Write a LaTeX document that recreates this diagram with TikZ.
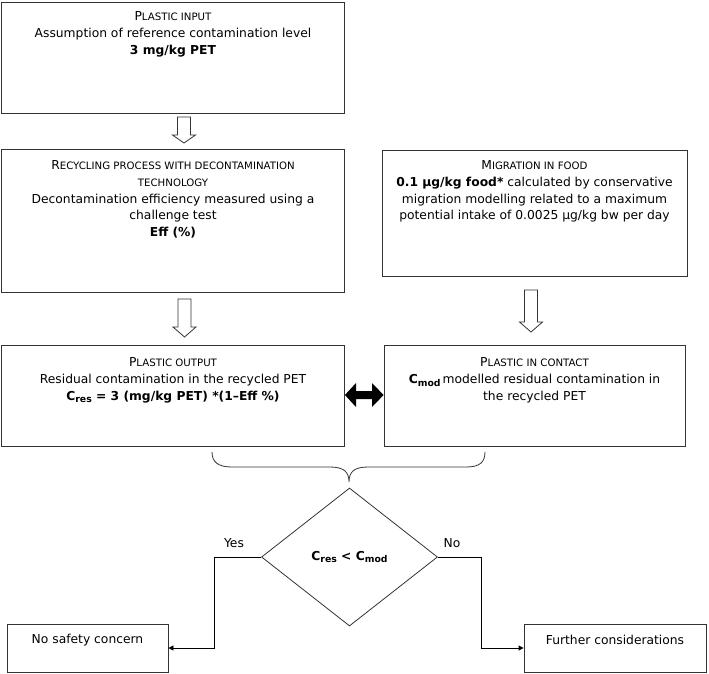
\documentclass[tikz,border=0pt]{standalone}
\usepackage{fontspec}
\setmainfont{DejaVu Sans}
\usetikzlibrary{shapes.geometric,arrows.meta}
\newcommand{\ssc}[2]{#1{\fontsize{10.2}{10.2}\selectfont #2}}
\newcommand{\bsub}[1]{\raisebox{-0.4ex}{\fontsize{9.3}{9.3}\selectfont\bfseries #1}}
\newcommand{\blockdown}[4]{\draw[hollow] (#1-6.5,#2) -- (#1+6.5,#2) -- (#1+6.5,#3) -- (#1+11.5,#3) -- (#1,#4) -- (#1-11.5,#3) -- (#1-6.5,#3) -- cycle;}
\begin{document}
\begin{tikzpicture}[x=1pt,y=-1pt,
  box/.style={draw=black!80, line width=0.8pt, inner sep=0pt, rectangle},
  txt/.style={align=center, inner sep=0pt, anchor=north, font=\fontsize{12.3}{16.7}\selectfont},
  lbl/.style={inner sep=0pt, font=\fontsize{12.3}{14}\selectfont},
  hollow/.style={draw=black!80, line width=0.8pt, fill=white},
  flow/.style={draw=black, line width=0.8pt, -{Triangle[length=5pt,width=5pt]}}]
\useasboundingbox (0,0) rectangle (709,673);

% boxes
\node[box, minimum width=343pt, minimum height=111pt] (input) at (173,57.5) {};
\node[box, minimum width=343pt, minimum height=143pt] (recyc) at (173,220.5) {};
\node[box, minimum width=305pt, minimum height=126pt] (migr) at (534.5,213) {};
\node[box, minimum width=343pt, minimum height=101pt] (output) at (173,395.5) {};
\node[box, minimum width=301pt, minimum height=101pt] (contact) at (534.5,395.5) {};
\node[box, minimum width=161pt, minimum height=48pt] (nosafe) at (87.5,648) {};
\node[box, minimum width=182pt, minimum height=48pt] (further) at (615,648) {};

% texts
\node[txt] (inputtxt) at (173,11.5) {\ssc{P}{LASTIC INPUT}\\Assumption of reference contamination level\\\textbf{3 mg/kg PET}};
\node[txt] (recyctxt) at (173,160.5) {\ssc{R}{ECYCLING PROCESS WITH DECONTAMINATION}\\{\fontsize{10.2}{10.2}\selectfont TECHNOLOGY}\\Decontamination efficiency measured using a\\challenge test\\\textbf{Eff (\%)}};
\node[txt] (migrtxt) at (534.5,160.5) {\ssc{M}{IGRATION IN FOOD}\\\textbf{0.1 µg/kg food*} calculated by conservative\\migration modelling related to a maximum\\potential intake of 0.0025 µg/kg bw per day};
\node[txt] (outputtxt) at (173,357.5) {\ssc{P}{LASTIC OUTPUT}\\Residual contamination in the recycled PET\\\textbf{C\bsub{res} = 3 (mg/kg PET) *(1–Eff \%)}};
\node[txt] (contacttxt) at (534.5,357.5) {\ssc{P}{LASTIC IN CONTACT}\\\textbf{C\bsub{mod}}\,modelled residual contamination in\\the recycled PET};
\node[lbl] (nosafetxt) at (87.5,640) {No safety concern};
\node[lbl] (furthertxt) at (615,640) {Further considerations};

% hollow block arrows
\blockdown{184}{117}{135}{143}
\blockdown{184.5}{299}{327}{337}
\blockdown{531}{290}{322}{332}

% double arrow
\fill[black] (output.east |- 0,395) -- (356,383) -- (356,391) -- (372,391) -- (372,383) -- (contact.west |- 0,395) -- (372,407) -- (372,399) -- (356,399) -- (356,407) -- cycle;

% brace
\draw[black!80, line width=0.8pt] (212,452) .. controls (212,462) and (218,467) .. (232,467) -- (330,467) .. controls (344,467) and (349,472) .. (349,482)
  .. controls (349,472) and (354,467) .. (368,467) -- (466,467) .. controls (480,467) and (485,462) .. (485,452);

% decision
\node[draw=black!80, line width=0.8pt, diamond, minimum width=176pt, minimum height=138pt, inner sep=0pt, font=\fontsize{12.3}{14}\selectfont] (dec) at (349.5,557) {\textbf{C\bsub{res} < C\bsub{mod}}};
\node[lbl] (yes) at (234,543) {Yes};
\node[lbl] (no) at (452,543) {No};

\coordinate (ybend) at (214,557);
\coordinate (nbend) at (481,557);
\draw[flow] (dec.west) -- (ybend) |- (nosafe.east);
\draw[flow] (dec.east) -- (nbend) |- (further.west);
\end{tikzpicture}
\end{document}
